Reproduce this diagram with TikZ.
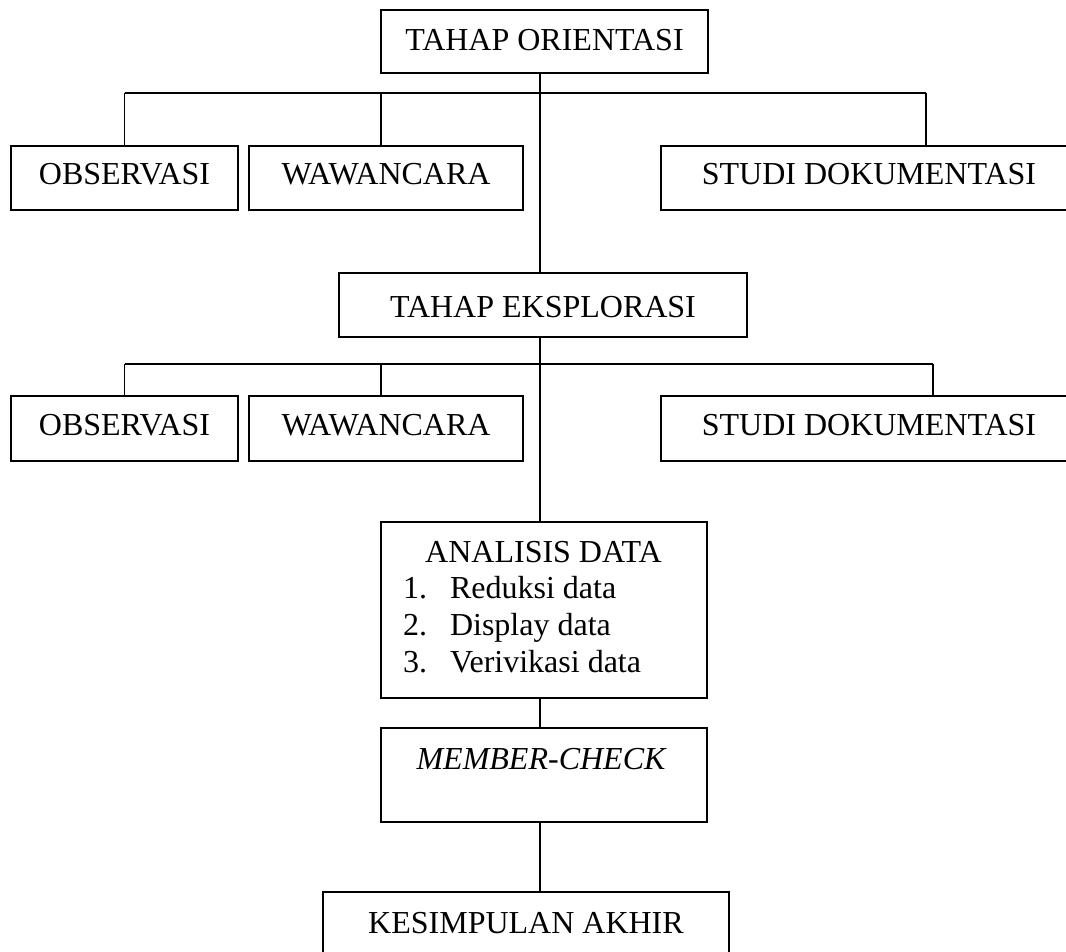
\documentclass[tikz,border=0pt]{standalone}
\usepackage{fontspec}
\setmainfont{Liberation Serif}
\begin{document}
\begin{tikzpicture}[x=1pt,y=-1pt,
  bx/.style={draw, line width=1.6pt, inner sep=0pt, outer sep=0pt,
    font=\fontsize{32}{37}\selectfont},
  head/.style={bx, text height=22pt, text depth=3pt},
  row/.style={bx, minimum height=64pt, text height=22pt, text depth=8pt},
  txt/.style={inner sep=0pt, outer sep=0pt, font=\fontsize{32}{37}\selectfont, anchor=base},
  ln/.style={line width=1.6pt}]
\useasboundingbox (0,0) rectangle (1066,952);

% main boxes
\node[head, minimum width=327pt, minimum height=63pt] (top) at (544.5,41.5) {TAHAP ORIENTASI};
\node[bx, minimum width=408pt, minimum height=64pt, text height=26pt, text depth=2pt] (eks) at (543,305) {TAHAP EKSPLORASI};

% row 1
\node[row, minimum width=227pt] (obs1) at (124.5,178) {OBSERVASI};
\node[row, minimum width=274pt] (waw1) at (386,178) {WAWANCARA};
\node[row, minimum width=416pt] (stu1) at (869,178) {STUDI DOKUMENTASI};

% row 2
\node[row, minimum width=227pt, minimum height=65pt] (obs2) at (124.5,428.5) {OBSERVASI};
\node[row, minimum width=274pt, minimum height=65pt] (waw2) at (386,428.5) {WAWANCARA};
\node[row, minimum width=416pt, minimum height=65pt] (stu2) at (869,428.5) {STUDI DOKUMENTASI};

% analisis
\node[bx, minimum width=326pt, minimum height=176pt] (ana) at (544,610) {};
\node[txt] (anat) at (543.5,562) {ANALISIS DATA};
\node[txt, anchor=base west] (n1) at (403,598) {1.};
\node[txt, anchor=base west] (i1) at (450,598) {Reduksi data};
\node[txt, anchor=base west] (n2) at (403,635) {2.};
\node[txt, anchor=base west] (i2) at (450,635) {Display data};
\node[txt, anchor=base west] (n3) at (403,672) {3.};
\node[txt, anchor=base west] (i3) at (450,672) {Verivikasi data};

% member check
\node[bx, minimum width=326pt, minimum height=94pt] (mem) at (544,775) {};
\node[txt] (memt) at (541,769) {\itshape MEMBER-CHECK};

% kesimpulan
\node[bx, minimum width=406pt, minimum height=64pt, text height=22pt, text depth=4pt] (kes) at (526,924) {KESIMPULAN AKHIR};

% spine coordinate
\coordinate (sp) at (540,0);

% spine
\draw[ln] (top.south -| sp) -- (eks.north -| sp);
\draw[ln] (eks.south -| sp) -- (ana.north -| sp);
\draw[ln] (ana.south -| sp) -- (mem.north -| sp);
\draw[ln] (mem.south -| sp) -- (kes.north -| sp);

% bus 1
\coordinate (o1) at (124.5,93);
\coordinate (w1) at (381,93);
\coordinate (s1) at (926,93);
\draw[ln] (o1) -- (s1);
\draw[ln] (o1) -- (obs1.north);
\draw[ln] (w1) -- (w1 |- waw1.north);
\draw[ln] (s1) -- (s1 |- stu1.north);

% bus 2
\coordinate (o2) at (124.5,364);
\coordinate (w2) at (381,364);
\coordinate (s2) at (933,364);
\draw[ln] (o2) -- (s2);
\draw[ln] (o2) -- (obs2.north);
\draw[ln] (w2) -- (w2 |- waw2.north);
\draw[ln] (s2) -- (s2 |- stu2.north);
\end{tikzpicture}
\end{document}
